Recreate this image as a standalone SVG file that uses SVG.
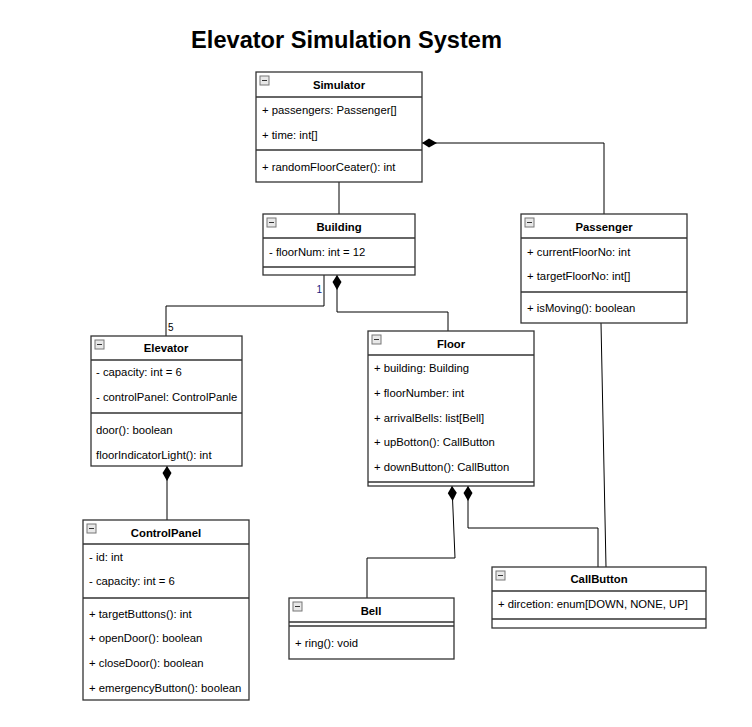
<svg xmlns="http://www.w3.org/2000/svg" width="752" height="727" viewBox="0 0 752 727">
<style>
.box{fill:#fff;stroke:#333;stroke-width:1.3}
.sep{stroke:#333;stroke-width:1.3}
.ico{fill:#e8e8e8;stroke:#777;stroke-width:1}
.icm{stroke:#333;stroke-width:1}
.t{font-family:"Liberation Sans",Arial,sans-serif;font-size:11.3px;fill:#000}
.h{font-family:"Liberation Sans",Arial,sans-serif;font-size:11.3px;font-weight:bold;fill:#000;text-anchor:middle}
.title{font-family:"Liberation Sans",Arial,sans-serif;font-size:23.6px;font-weight:bold;fill:#000;text-anchor:middle}
.c{fill:none;stroke:#000;stroke-width:1}
.lbl{font-family:"Liberation Sans",Arial,sans-serif;font-size:10px}
</style>
<defs>
<marker id="dia" markerWidth="16" markerHeight="10" refX="0" refY="5" orient="auto" markerUnits="userSpaceOnUse">
<path d="M0,5 L7,0.5 L15,5 L7,9.5 Z" fill="#000"/>
</marker>
<g id="icon"><rect class="ico" x="0" y="0" width="9" height="9"/><line class="icm" x1="2" y1="4.5" x2="7" y2="4.5"/></g>
</defs>
<rect width="752" height="727" fill="#fff"/>
<text class="title" x="346.5" y="48">Elevator Simulation System</text>

<g id="connectors">
<path class="c" d="M339,182 V214"/>
<path class="c" d="M422,143 H604 V214" marker-start="url(#dia)"/>
<path class="c" d="M324,275 V306 H166 V336"/>
<text class="lbl" x="322" y="293" text-anchor="end" fill="#1a1a80">1</text>
<text class="lbl" x="168" y="331" fill="#000">5</text>
<path class="c" d="M337,275 V312 H448 V331" marker-start="url(#dia)"/>
<path class="c" d="M167,466 V520" marker-start="url(#dia)"/>
<path class="c" d="M452,486 L455,558 H367 V598" marker-start="url(#dia)"/>
<path class="c" d="M468,486 V528 H598 V567" marker-start="url(#dia)"/>
<path class="c" d="M601,323 L606,567"/>
</g>

<g id="Simulator">
<rect class="box" x="256" y="72" width="166" height="110"/>
<use href="#icon" x="260" y="76"/>
<text class="h" x="339" y="89">Simulator</text>
<line class="sep" x1="256" y1="97" x2="422" y2="97"/>
<text class="t" x="262" y="114">+ passengers: Passenger[]</text>
<text class="t" x="262" y="139">+ time: int[]</text>
<line class="sep" x1="256" y1="150" x2="422" y2="150"/>
<text class="t" x="262" y="171">+ randomFloorCeater(): int</text>
</g>

<g id="Building">
<rect class="box" x="263" y="214" width="152" height="61"/>
<use href="#icon" x="267" y="218"/>
<text class="h" x="339" y="231">Building</text>
<line class="sep" x1="263" y1="238" x2="415" y2="238"/>
<text class="t" x="269" y="256">- floorNum: int = 12</text>
<line class="sep" x1="263" y1="267" x2="415" y2="267"/>
</g>

<g id="Passenger">
<rect class="box" x="521" y="214" width="166" height="109"/>
<use href="#icon" x="525" y="218"/>
<text class="h" x="604" y="231">Passenger</text>
<line class="sep" x1="521" y1="238" x2="687" y2="238"/>
<text class="t" x="527" y="256">+ currentFloorNo: int</text>
<text class="t" x="527" y="280">+ targetFloorNo: int[]</text>
<line class="sep" x1="521" y1="292" x2="687" y2="292"/>
<text class="t" x="527" y="312">+ isMoving(): boolean</text>
</g>

<g id="Elevator">
<rect class="box" x="91" y="336" width="151" height="130"/>
<use href="#icon" x="95" y="340"/>
<text class="h" x="166" y="352">Elevator</text>
<line class="sep" x1="91" y1="360" x2="242" y2="360"/>
<text class="t" x="96" y="376">- capacity: int = 6</text>
<text class="t" x="96" y="401">- controlPanel: ControlPanle</text>
<line class="sep" x1="91" y1="413" x2="242" y2="413"/>
<text class="t" x="96" y="434">door(): boolean</text>
<text class="t" x="96" y="459">floorIndicatorLight(): int</text>
</g>

<g id="Floor">
<rect class="box" x="368" y="331" width="166" height="155"/>
<use href="#icon" x="372" y="335"/>
<text class="h" x="451" y="348">Floor</text>
<line class="sep" x1="368" y1="355" x2="534" y2="355"/>
<text class="t" x="374" y="372">+ building: Building</text>
<text class="t" x="374" y="397">+ floorNumber: int</text>
<text class="t" x="374" y="422">+ arrivalBells: list[Bell]</text>
<text class="t" x="374" y="446">+ upBotton(): CallButton</text>
<text class="t" x="374" y="471">+ downButton(): CallButton</text>
<line class="sep" x1="368" y1="482" x2="534" y2="482"/>
</g>

<g id="ControlPanel">
<rect class="box" x="83" y="520" width="166" height="180"/>
<use href="#icon" x="87" y="524"/>
<text class="h" x="166" y="537">ControlPanel</text>
<line class="sep" x1="83" y1="544" x2="249" y2="544"/>
<text class="t" x="89" y="561">- id: int</text>
<text class="t" x="89" y="585">- capacity: int = 6</text>
<line class="sep" x1="83" y1="598" x2="249" y2="598"/>
<text class="t" x="89" y="618">+ targetButtons(): int</text>
<text class="t" x="89" y="642">+ openDoor(): boolean</text>
<text class="t" x="89" y="667">+ closeDoor(): boolean</text>
<text class="t" x="89" y="692">+ emergencyButton(): boolean</text>
</g>

<g id="Bell">
<rect class="box" x="289" y="598" width="165" height="61"/>
<use href="#icon" x="293" y="602"/>
<text class="h" x="371" y="615">Bell</text>
<line class="sep" x1="289" y1="622" x2="454" y2="622"/>
<line class="sep" x1="289" y1="626" x2="454" y2="626"/>
<text class="t" x="295" y="647">+ ring(): void</text>
</g>

<g id="CallButton">
<rect class="box" x="492" y="567" width="214" height="61"/>
<use href="#icon" x="496" y="571"/>
<text class="h" x="599" y="583">CallButton</text>
<line class="sep" x1="492" y1="591" x2="706" y2="591"/>
<text class="t" x="498" y="608">+ dircetion: enum[DOWN, NONE, UP]</text>
<line class="sep" x1="492" y1="619" x2="706" y2="619"/>
</g>
</svg>
